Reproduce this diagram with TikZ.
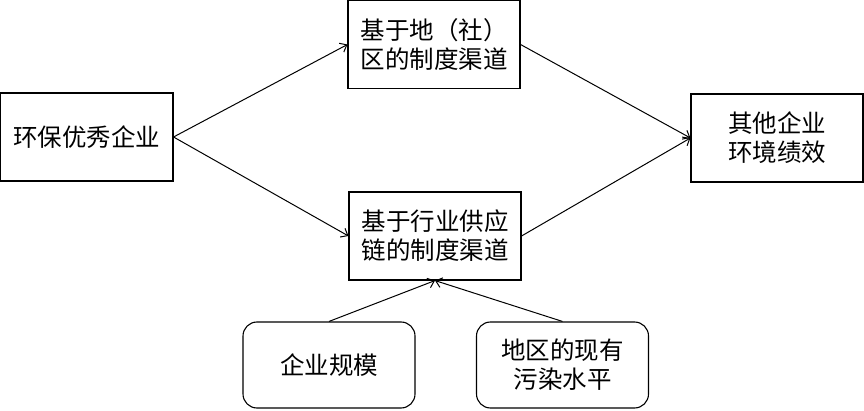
\documentclass[tikz,border=0pt]{standalone}
\usepackage{fontspec}
\setmainfont{Noto Sans CJK SC}
\usetikzlibrary{arrows.meta}
\begin{document}
\begin{tikzpicture}[x=1pt,y=-1pt,
  box/.style={draw,line width=1.1pt,minimum width=172pt,minimum height=88pt,inner sep=0pt,align=center,font=\fontsize{24.5}{29}\selectfont},
  rbox/.style={box,rounded corners=14pt,minimum height=86pt},
  arr/.style={-{Straight Barb[length=6pt,width=10pt]},line width=1pt}]
\useasboundingbox (0,0) rectangle (864,411);
\node[box,minimum width=173pt] (a) at (86.5,137) {环保优秀企业};
\node[box] (b) at (434,44.5) {基于地（社）\\区的制度渠道};
\node[box] (c) at (435,236) {基于行业供应\\链的制度渠道};
\node[box] (d) at (777,138) {其他企业\\环境绩效};
\node[rbox] (e) at (329,365) {企业规模};
\node[rbox] (f) at (562.5,365) {地区的现有\\污染水平};
\draw[arr] (a.east) -- (b.west);
\draw[arr] (a.east) -- (c.west);
\draw[arr] (b.east) -- (d.west);
\draw[arr] (c.east) -- (d.west);
\draw[arr] (e.north) -- (c.south);
\draw[arr] (f.north) -- (c.south);
\end{tikzpicture}
\end{document}
